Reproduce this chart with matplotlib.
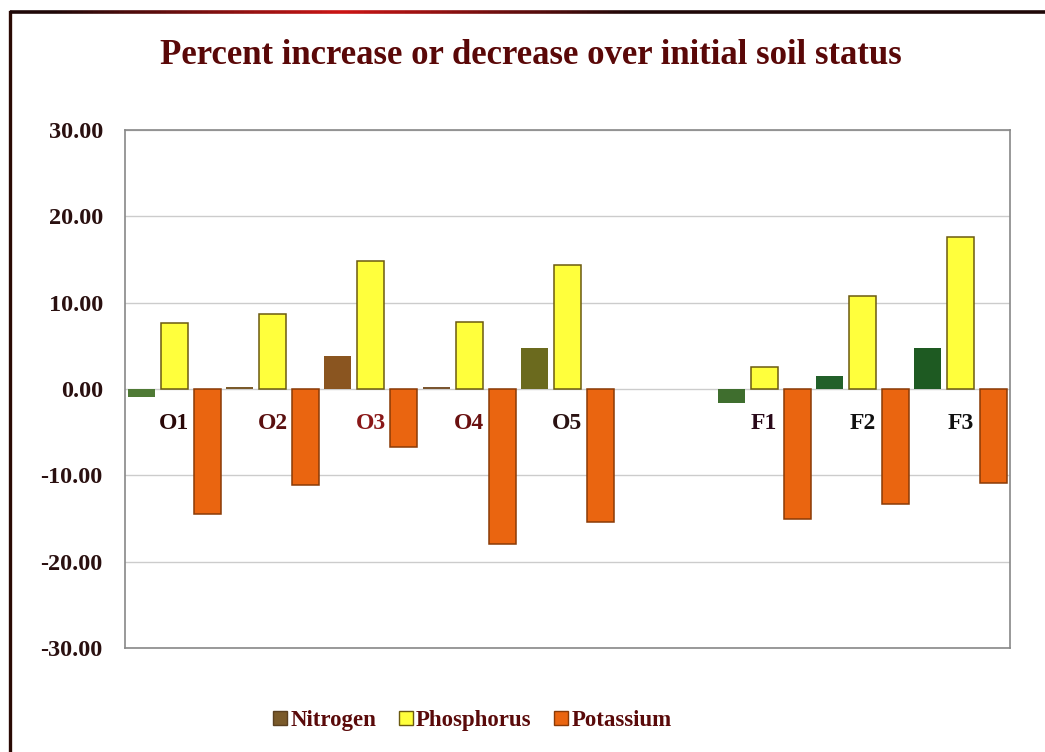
import numpy as np
import matplotlib
matplotlib.use("Agg")
import matplotlib.pyplot as plt
from matplotlib.lines import Line2D
from matplotlib.collections import LineCollection
from matplotlib.patches import Patch

# Data: percent change over initial soil status
categories = ["O1", "O2", "O3", "O4", "O5", "", "F1", "F2", "F3"]
nitrogen = [-0.9, 0.2, 3.8, 0.2, 4.8, np.nan, -1.6, 1.5, 4.8]
phosphorus = [7.7, 8.7, 14.8, 7.8, 14.4, np.nan, 2.5, 10.8, 17.6]
potassium = [-14.5, -11.1, -6.7, -18.0, -15.4, np.nan, -15.1, -13.3, -10.9]
yticks = [30, 20, 10, 0, -10, -20, -30]

n_colors = ["#4f7a35", "#7a5a2a", "#8a5520", "#7a5530", "#6b6a1e",
            "#ffffff", "#3f6e2e", "#22602a", "#1e5a22"]
label_colors = ["#2a0808", "#5a1010", "#8a1818", "#6a1010", "#2a1212",
                "#000000", "#2a0a1a", "#111111", "#111111"]

serif = ["Liberation Serif", "DejaVu Serif"]

fig = plt.figure(figsize=(10.45, 7.52), dpi=100)
ax = fig.add_axes([0.1196, 0.1383, 0.8469, 0.6888])

x = np.arange(len(categories))
w = 0.275
step = 0.335

ax.bar(x - step, nitrogen, width=w, color=n_colors, edgecolor="none", zorder=3)
ax.bar(x, phosphorus, width=w, color="#ffff3c", edgecolor="#6b5a10",
       linewidth=1.1, zorder=3)
ax.bar(x + step, potassium, width=w, color="#ea6510", edgecolor="#8a3a06",
       linewidth=1.1, zorder=3)

ax.set_xlim(-0.5, len(categories) - 0.5)
ax.set_ylim(-30, 30)
ax.set_yticks(yticks)
ax.set_yticklabels([f"{v:.2f}" for v in yticks], fontfamily=serif,
                   fontweight="bold", fontsize=17.5, color="#2a1010")
ax.tick_params(axis="y", length=0, pad=16)
ax.set_xticks([])

for v in yticks:
    ax.axhline(v, color="#cccccc", linewidth=1.0, zorder=1)
for s in ax.spines.values():
    s.set_color("#888888")
    s.set_linewidth(1.2)

# Category labels sit just under the zero line
for i, lab in enumerate(categories):
    if lab:
        ax.annotate(lab, xy=(i, 0), xytext=(0, -17), textcoords="offset points",
                    ha="center", va="top", fontfamily=serif, fontweight="bold",
                    fontsize=17, color=label_colors[i], zorder=4)

fig.text(0.508, 0.926, "Percent increase or decrease over initial soil status",
         ha="center", va="center", fontfamily=serif, fontweight="bold",
         fontsize=25, color="#5a0808")

handles = [Patch(facecolor="#7a5a2a", edgecolor="#5a4020"),
           Patch(facecolor="#ffff3c", edgecolor="#6b5a10"),
           Patch(facecolor="#ea6510", edgecolor="#8a3a06")]
leg = fig.legend(handles, ["Nitrogen", "Phosphorus", "Potassium"],
                 loc="center", bbox_to_anchor=(0.452, 0.042), ncol=3, frameon=False,
                 prop={"family": serif, "weight": "bold", "size": 16.5},
                 handlelength=0.6, handleheight=0.6, handletextpad=0.15,
                 columnspacing=1.0)
for t in leg.get_texts():
    t.set_color("#5a0a0a")

# Outer frame: dark left edge and a top edge shading to red
fx = 10 / 1045
fy = 1 - 12 / 752
fig.add_artist(Line2D([fx, fx], [0, fy], transform=fig.transFigure,
                      color="#2a0a04", linewidth=2.4))
xs = np.linspace(fx, 1.0, 200)
segs = [[(xs[k], fy), (xs[k + 1], fy)] for k in range(len(xs) - 1)]
t = np.linspace(0, 1, len(segs))
red = np.clip(1 - np.abs(t - 0.32) / 0.28, 0, 1)
cols = [(0.12 + 0.68 * r, 0.03 + 0.05 * r, 0.03 + 0.05 * r, 1.0) for r in red]
fig.add_artist(LineCollection(segs, colors=cols, linewidths=2.6,
                              transform=fig.transFigure))

fig.savefig("out.png", dpi=100, facecolor="white")
